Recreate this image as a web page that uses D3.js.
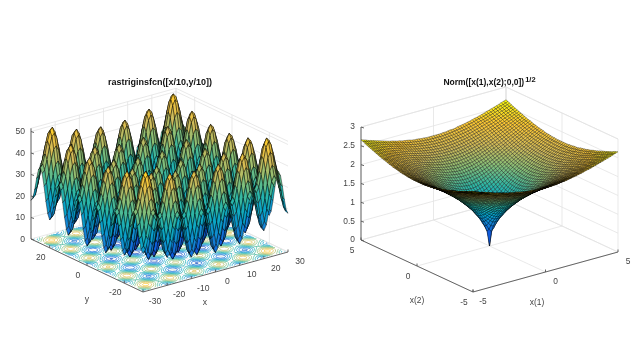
<!DOCTYPE html>
<html>
<head>
<meta charset="utf-8">
<script src="https://cdn.jsdelivr.net/npm/d3@7/dist/d3.min.js"></script>
<style>
html,body{margin:0;padding:0;background:#fff}
svg{display:block;filter:blur(0.3px)}
text{font-family:"Liberation Sans",Arial,sans-serif}
</style>
</head>
<body>
<svg id="chart" width="640" height="360" viewBox="0 0 640 360"></svg>
<script>
// ---------- data ----------
// Height of one Rastrigin-term cross-section at |t| = 0,1,...,30
const rastriginProfile = [0,1.92,6.95,13.18,18.25,20.25,18.45,13.58,7.55,2.72,1,3.12,8.35,14.78,20.05,22.25,
  20.65,15.98,10.15,5.52,4,6.32,11.75,18.38,23.85,26.25,24.85,20.38,14.75,10.32,9];
// Right surface heights on one quadrant, rows j=0..30, columns i=j..30
const normRows = [
 [0,.41,.58,.71,.82,.91,1.00,1.08,1.15,1.22,1.29,1.35,1.41,1.47,1.53,1.58,1.63,1.68,1.73,1.78,1.83,1.87,1.91,1.96,2.00,2.04,2.08,2.12,2.16,2.20,2.24],
 [.49,.61,.73,.83,.92,1.01,1.09,1.16,1.23,1.29,1.36,1.42,1.47,1.53,1.58,1.63,1.68,1.73,1.78,1.83,1.87,1.92,1.96,2.00,2.04,2.08,2.12,2.16,2.20,2.24],
 [.69,.78,.86,.95,1.03,1.10,1.17,1.24,1.30,1.37,1.42,1.48,1.54,1.59,1.64,1.69,1.74,1.78,1.83,1.88,1.92,1.96,2.00,2.04,2.08,2.12,2.16,2.20,2.24],
 [.84,.91,.99,1.06,1.13,1.19,1.26,1.32,1.38,1.44,1.49,1.54,1.60,1.65,1.70,1.74,1.79,1.84,1.88,1.92,1.97,2.01,2.05,2.09,2.13,2.17,2.20,2.24],
 [.97,1.03,1.10,1.16,1.22,1.28,1.34,1.40,1.45,1.51,1.56,1.61,1.66,1.71,1.75,1.80,1.84,1.89,1.93,1.97,2.01,2.05,2.09,2.13,2.17,2.21,2.25],
 [1.09,1.14,1.20,1.25,1.31,1.37,1.42,1.47,1.52,1.57,1.62,1.67,1.72,1.76,1.81,1.85,1.90,1.94,1.98,2.02,2.06,2.10,2.14,2.18,2.21,2.25],
 [1.19,1.24,1.29,1.34,1.39,1.45,1.50,1.54,1.59,1.64,1.69,1.73,1.78,1.82,1.87,1.91,1.95,1.99,2.03,2.07,2.11,2.15,2.18,2.22,2.26],
 [1.28,1.33,1.38,1.43,1.47,1.52,1.57,1.62,1.66,1.71,1.75,1.79,1.84,1.88,1.92,1.96,2.00,2.04,2.08,2.12,2.16,2.19,2.23,2.27],
 [1.37,1.42,1.46,1.51,1.55,1.59,1.64,1.68,1.73,1.77,1.81,1.85,1.89,1.94,1.98,2.01,2.05,2.09,2.13,2.17,2.20,2.24,2.27],
 [1.46,1.50,1.54,1.58,1.62,1.67,1.71,1.75,1.79,1.83,1.87,1.91,1.95,1.99,2.03,2.07,2.10,2.14,2.18,2.21,2.25,2.28],
 [1.54,1.57,1.61,1.65,1.69,1.73,1.77,1.81,1.85,1.89,1.93,1.97,2.01,2.04,2.08,2.12,2.15,2.19,2.23,2.26,2.30],
 [1.61,1.65,1.68,1.72,1.76,1.80,1.84,1.88,1.91,1.95,1.99,2.02,2.06,2.10,2.13,2.17,2.20,2.24,2.27,2.31],
 [1.68,1.72,1.75,1.79,1.83,1.86,1.90,1.94,1.97,2.01,2.04,2.08,2.11,2.15,2.18,2.22,2.25,2.29,2.32],
 [1.75,1.78,1.82,1.85,1.89,1.92,1.96,1.99,2.03,2.06,2.10,2.13,2.17,2.20,2.23,2.27,2.30,2.33],
 [1.82,1.85,1.88,1.92,1.95,1.98,2.02,2.05,2.08,2.12,2.15,2.19,2.22,2.25,2.28,2.32,2.35],
 [1.88,1.91,1.94,1.98,2.01,2.04,2.07,2.11,2.14,2.17,2.20,2.24,2.27,2.30,2.33,2.36],
 [1.94,1.97,2.00,2.03,2.07,2.10,2.13,2.16,2.19,2.22,2.26,2.29,2.32,2.35,2.38],
 [2.00,2.03,2.06,2.09,2.12,2.15,2.18,2.21,2.24,2.28,2.31,2.34,2.37,2.40],
 [2.06,2.09,2.12,2.15,2.18,2.21,2.24,2.27,2.30,2.33,2.36,2.39,2.41],
 [2.12,2.14,2.17,2.20,2.23,2.26,2.29,2.32,2.35,2.37,2.40,2.43],
 [2.17,2.20,2.23,2.25,2.28,2.31,2.34,2.37,2.39,2.42,2.45],
 [2.22,2.25,2.28,2.31,2.33,2.36,2.39,2.42,2.44,2.47],
 [2.28,2.30,2.33,2.36,2.38,2.41,2.44,2.46,2.49],
 [2.33,2.35,2.38,2.41,2.43,2.46,2.48,2.51],
 [2.38,2.40,2.43,2.45,2.48,2.50,2.53],
 [2.43,2.45,2.48,2.50,2.53,2.55],
 [2.48,2.50,2.52,2.55,2.57],
 [2.52,2.55,2.57,2.59],
 [2.57,2.59,2.62],
 [2.61,2.64],
 [2.66]
];
const leftXTicks = [-30,-20,-10,0,10,20,30];
const leftYTicks = [-20,0,20];
const leftZTicks = [0,10,20,30,40,50];
const leftContourLevels = [5,10,15,20,25,30,35,40,45,50];
const rightXTicks = [-5,0,5];
const rightYTicks = [-5,0,5];
const rightZTicks = [0,0.5,1,1.5,2,2.5,3];
const rightZLabels = ["0","0.5","1","1.5","2","2.5","3"];
const parulaStops = ["#352A87","#0F5CDD","#1481D6","#06A4CA","#2EB7A4","#87BF77","#D1BB59","#FEC832","#F9FB0E"];

// ---------- build grids from the tables ----------
const leftGrid = d3.range(-30,31).map(y => d3.range(-30,31).map(x =>
  rastriginProfile[Math.abs(x)] + rastriginProfile[Math.abs(y)]));
const normAt = (i,j) => { const a=Math.min(i,j), b=Math.max(i,j); return normRows[a][b-a]; };
const rightGrid = d3.range(-30,31).map(j => d3.range(-30,31).map(i => normAt(Math.abs(i),Math.abs(j))));

const svg = d3.select("#chart");

function panel(o){
  const g = svg.append("g");
  const sx = d3.scaleLinear().domain(o.xDomain).range([0,1]);
  const sy = d3.scaleLinear().domain(o.yDomain).range([0,1]);
  const sz = d3.scaleLinear().domain(o.zDomain).range([0,o.zPixels]);
  // unit-box projection: front corner + x toward right corner + y toward left corner
  const P = (x,y,z) => {
    const u=sx(x), v=sy(y);
    return [o.front[0]+u*(o.right[0]-o.front[0])+v*(o.left[0]-o.front[0]),
            o.front[1]+u*(o.right[1]-o.front[1])+v*(o.left[1]-o.front[1])-sz(z)];
  };
  const [x0,x1]=o.xDomain,[y0,y1]=o.yDomain,[z0,z1]=o.zDomain;
  const line = d3.line();

  // back walls and floor grid
  const grid = g.append("g").attr("fill","none").attr("stroke","#e3e3e3").attr("stroke-width",0.8);
  const seg=(a,b)=>grid.append("path").attr("d",line([a,b]));
  o.xTicks.forEach(t=>{ seg(P(t,y0,z0),P(t,y1,z0)); seg(P(t,y1,z0),P(t,y1,z1)); });
  o.yTicks.forEach(t=>{ seg(P(x0,t,z0),P(x1,t,z0)); seg(P(x1,t,z0),P(x1,t,z1)); });
  o.zTicks.forEach(t=>{ seg(P(x0,y1,t),P(x1,y1,t)); seg(P(x1,y1,t),P(x1,y0,t)); });
  seg(P(x1,y1,z0),P(x1,y1,z1));
  seg(P(x0,y1,z1),P(x1,y1,z1)); seg(P(x1,y1,z1),P(x1,y0,z1));

  // floor contours
  if(o.levels){
    const n=o.grid.length, flat=o.grid.flat();
    const contours=d3.contours().size([n,n]).thresholds(o.levels)(flat);
    const cs=g.append("g").attr("fill","none").attr("stroke-width",o.contourWidth);
    const gx=d3.scaleLinear().domain([0.5,n-0.5]).range(o.xDomain);
    const gy=d3.scaleLinear().domain([0.5,n-0.5]).range(o.yDomain);
    const color=d3.scaleLinear().domain(d3.range(parulaStops.length).map(i=>o.cMax*i/(parulaStops.length-1))).range(parulaStops);
    contours.forEach(c=>{
      const pth=d3.path();
      c.coordinates.forEach(poly=>poly.forEach(ring=>{
        for(let i=1;i<ring.length;i++){
          const a=ring[i-1],b=ring[i];
          const out=[a,b].some(q=>q[0]<=0.5||q[1]<=0.5||q[0]>=n-0.5||q[1]>=n-0.5);
          if(out) continue;
          const A=P(gx(a[0]),gy(a[1]),z0),B=P(gx(b[0]),gy(b[1]),z0);
          pth.moveTo(A[0],A[1]); pth.lineTo(B[0],B[1]);
        }
      }));
      cs.append("path").attr("d",pth.toString()).attr("stroke",color(c.value));
    });
  }

  // axis lines
  const ax=g.append("g").attr("fill","none").attr("stroke","#555").attr("stroke-width",0.9);
  const aseg=(a,b)=>ax.append("path").attr("d",line([a,b]));
  aseg(P(x0,y1,z0),P(x0,y0,z0));
  aseg(P(x0,y0,z0),P(x1,y0,z0));
  aseg(P(x0,y1,z0),P(x0,y1,z1));
  o.zTicks.forEach(t=>{const a=P(x0,y1,t); aseg(a,[a[0]+3,a[1]+1]);});
  o.xTicks.forEach(t=>{const a=P(t,y0,z0); aseg(a,[a[0],a[1]-2.5]);});
  o.yTicks.forEach(t=>{const a=P(x0,t,z0); aseg(a,[a[0],a[1]-2.5]);});

  // surface, painted back to front
  const m=o.grid.length, sgx=d3.scaleLinear().domain([0,m-1]).range(o.xDomain), sgy=d3.scaleLinear().domain([0,m-1]).range(o.yDomain);
  const facets=[];
  for(let j=m-2;j>=0;j--) for(let i=m-2;i>=0;i--){
    const zs=[o.grid[j][i],o.grid[j][i+1],o.grid[j+1][i+1],o.grid[j+1][i]];
    facets.push({zs,i,j});
  }
  const color=d3.scaleLinear().domain(d3.range(parulaStops.length).map(i=>o.cMax*i/(parulaStops.length-1))).range(parulaStops);
  g.append("g").attr("stroke","#000").attr("stroke-width",o.edgeWidth).attr("stroke-opacity",o.edgeOpacity).attr("stroke-linejoin","round")
    .selectAll("path").data(facets).join("path")
    .attr("d",f=>{
      const c=[[f.i,f.j],[f.i+1,f.j],[f.i+1,f.j+1],[f.i,f.j+1]].map((q,k)=>P(sgx(q[0]),sgy(q[1]),f.zs[k]));
      return line(c)+"Z";
    })
    .attr("fill",f=>color(d3.mean(f.zs)));

  // tick labels
  const lab=g.append("g").attr("fill","#444").attr("font-size",o.fontSize);
  const put=(s,x,y,anchor)=>lab.append("text").attr("x",x).attr("y",y).attr("text-anchor",anchor||"middle").attr("dy","0.35em").text(s);
  o.zTicks.forEach((t,i)=>{const a=P(x0,y1,t); put(o.zLabels?o.zLabels[i]:String(t),a[0]-6,a[1]-0.5,"end");});
  o.xTicks.forEach(t=>{const a=P(t,y0,z0); put(String(t),a[0]+o.xOff[0],a[1]+o.xOff[1]);});
  o.yTicks.forEach(t=>{const a=P(x0,t,z0); put(String(t),a[0]+o.yOff[0],a[1]+o.yOff[1]);});
  put(o.xLabel,o.xLabelPos[0],o.xLabelPos[1]);
  put(o.yLabel,o.yLabelPos[0],o.yLabelPos[1]);
  return g;
}

panel({
  grid:leftGrid,xDomain:[-30,30],yDomain:[-30,30],zDomain:[0,51.5],zPixels:110.7,
  front:[143,292],right:[288,252],left:[31,239],
  xTicks:leftXTicks,yTicks:leftYTicks,zTicks:leftZTicks,levels:leftContourLevels,contourWidth:0.7,
  cMax:57,edgeWidth:0.5,edgeOpacity:0.85,fontSize:8.6,
  xOff:[12,9],yOff:[-9,9],xLabel:"x",yLabel:"y",xLabelPos:[205,302],yLabelPos:[87,299]
});
panel({
  grid:rightGrid,xDomain:[-5,5],yDomain:[-5,5],zDomain:[0,3],zPixels:113,
  front:[473,292],right:[618,252],left:[361,240],
  xTicks:rightXTicks,yTicks:rightYTicks,zTicks:rightZTicks,zLabels:rightZLabels,
  cMax:2.66,edgeWidth:0.38,edgeOpacity:0.85,fontSize:8.4,
  xOff:[10,9],yOff:[-9,10],xLabel:"x(1)",yLabel:"x(2)",xLabelPos:[537,302],yLabelPos:[417,300]
});

// titles
svg.append("text").attr("x",160).attr("y",85).attr("text-anchor","middle").attr("font-size",9).attr("font-weight","bold").attr("fill","#111")
  .text("rastriginsfcn([x/10,y/10])");
const t2=svg.append("text").attr("x",489.5).attr("y",85).attr("text-anchor","middle").attr("font-size",8.5).attr("font-weight","bold").attr("fill","#111");
t2.append("tspan").text("Norm([x(1),x(2);0,0])");
t2.append("tspan").attr("dy",-3.5).attr("dx",1).attr("font-size",7.5).text("1/2");
</script>
</body>
</html>
